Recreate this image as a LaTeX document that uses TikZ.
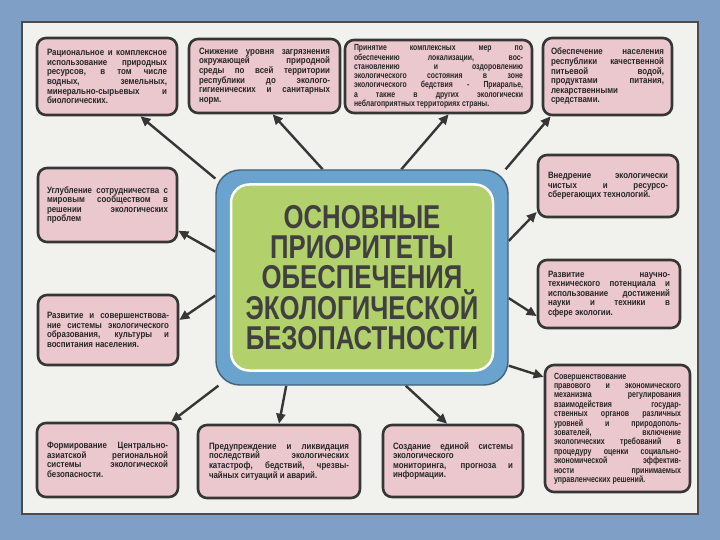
\documentclass[tikz,border=0pt]{standalone}
\usepackage{fontspec}
\setmainfont{Liberation Sans}
\newfontfamily\headfont[FakeStretch=0.78]{Liberation Sans}
\newfontfamily\boxfont[FakeStretch=0.86]{Liberation Sans}
\newfontfamily\narrowfont[FakeStretch=0.78]{Liberation Sans}
\usetikzlibrary{arrows.meta,backgrounds}
\definecolor{boxpink}{HTML}{EBC8CD}
\definecolor{framegray}{HTML}{363636}
\definecolor{ringblue}{HTML}{6AA3CD}
\definecolor{leafgreen}{HTML}{B2D06C}
\definecolor{paper}{HTML}{F1F1ED}
\definecolor{slideblue}{HTML}{7F9FC6}

\begin{document}
\begin{tikzpicture}[x=1pt,y=-1pt,line join=round,
  prio/.style={draw=framegray,line width=2.6pt,fill=boxpink,rounded corners=9pt,inner sep=0pt,
    font=\boxfont\bfseries\fontsize{9.2}{9.6}\selectfont,text=black!85,align=justify},
  arr/.style={draw=framegray,line width=2.4pt,-{Triangle[length=10pt,width=9pt]}}]
\useasboundingbox (0,0) rectangle (720,540);
\begin{scope}[on background layer]
\fill[slideblue] (0,0) rectangle (720,540);
\fill[paper] (21,21) rectangle (699,515);
\draw[black!70,line width=1.2pt] (22,22) rectangle (698,514);
\end{scope}
% top row
\node[prio,minimum width=140,minimum height=77,text width=120] (rat) at (107,76.5)
  {Рациональное и комплексное\linebreak использование природных\linebreak ресурсов, в том числе\linebreak водных, земельных,\linebreak минерально-сырьевых и\linebreak биологических.};
\node[prio,minimum width=151,minimum height=74,text width=131] (poll) at (264.5,76)
  {Снижение уровня загрязнения\linebreak окружающей природной\linebreak среды по всей территории\linebreak республики до эколого-\linebreak гигиенических и санитарных\linebreak норм.};
\node[prio,minimum width=187,minimum height=73,text width=169,font=\narrowfont\bfseries\fontsize{8.8}{9.3}\selectfont] (aral) at (438.5,76.5)
  {Принятие комплексных мер по\linebreak обеспечению локализации, вос-\linebreak становлению и оздоровлению\linebreak экологического состояния в зоне\linebreak экологического бедствия - Приаралье,\linebreak а также в других экологически\linebreak неблагоприятных территориях страны.};
\node[prio,minimum width=129,minimum height=77,text width=113] (water) at (607.5,76.5)
  {Обеспечение населения\linebreak республики качественной\linebreak питьевой водой,\linebreak продуктами питания,\linebreak лекарственными\linebreak средствами.};
% left column
\node[prio,minimum width=139,minimum height=74,text width=121] (coop) at (107.5,205)
  {Углубление сотрудничества с\linebreak мировым сообществом в\linebreak решении экологических\linebreak проблем};
\node[prio,minimum width=140,minimum height=70,text width=122] (edu) at (108,330)
  {Развитие и совершенствова-\linebreak ние системы экологического\linebreak образования, культуры и\linebreak воспитания населения.};
% right column
\node[prio,minimum width=140,minimum height=62,text width=120] (tech) at (608,186)
  {Внедрение экологически\linebreak чистых и ресурсо-\linebreak сберегающих технологий.};
\node[prio,minimum width=142,minimum height=68,text width=122] (sci) at (609,294)
  {Развитие научно-\linebreak технического потенциала и\linebreak использование достижений\linebreak науки и техники в\linebreak сфере экологии.};
\node[prio,minimum width=145,minimum height=127,text width=127,font=\narrowfont\bfseries\fontsize{9}{9.4}\selectfont] (law) at (617.5,428.5)
  {Совершенствование\linebreak правового и экономического\linebreak механизма регулирования\linebreak взаимодействия государ-\linebreak ственных органов различных\linebreak уровней и природополь-\linebreak зователей, включение\linebreak экологических требований в\linebreak процедуру оценки социально-\linebreak экономической эффектив-\linebreak ности принимаемых\linebreak управленческих решений.};
% bottom row
\node[prio,minimum width=141,minimum height=74,text width=121] (asia) at (107.5,460)
  {Формирование Центрально-\linebreak азиатской региональной\linebreak системы экологической\linebreak безопасности.};
\node[prio,minimum width=162,minimum height=73,text width=140] (disas) at (279,461.5)
  {Предупреждение и ликвидация\linebreak последствий экологических\linebreak катастроф, бедствий, чрезвы-\linebreak чайных ситуаций и аварий.};
\node[prio,minimum width=140,minimum height=72,text width=120] (mon) at (453,461)
  {Создание единой системы\linebreak экологического\linebreak мониторинга, прогноза и\linebreak информации.};
% centre
\node[draw=ringblue!60!black,fill=ringblue,line width=1.4pt,rounded corners=24pt,
  minimum width=292,minimum height=215] (cen) at (362,277.5) {};
\node[fill=leafgreen,draw=white,line width=2.5pt,rounded corners=18pt,minimum width=262,minimum height=186,
  align=center,font=\headfont\bfseries\fontsize{33}{30}\selectfont,text=black!75] (core) at (cen)
  {ОСНОВНЫЕ\\ПРИОРИТЕТЫ\\ОБЕСПЕЧЕНИЯ\\ЭКОЛОГИЧЕСКОЙ\\БЕЗОПАСТНОСТИ};
\begin{scope}[on background layer]
\draw[arr] (cen.146) -- (rat.-50);
\draw[arr] (cen.110) -- (poll.-78);
\draw[arr] (cen.70) -- (aral.-75);
\draw[arr] (cen.37) -- (water.-145);
\draw[arr] (cen.170) -- (coop.-20);
\draw[arr] (cen.14) -- (tech.200);
\draw[arr] (cen.187) -- (edu.8);
\draw[arr] (cen.-8) -- (sci.197);
\draw[arr] (cen.-31) -- (law.145);
\draw[arr] (cen.217) -- (asia.31);
\draw[arr] (cen.235) -- (disas.north);
\draw[arr] (cen.-68) -- (mon.99);
\end{scope}
\end{tikzpicture}
\end{document}
